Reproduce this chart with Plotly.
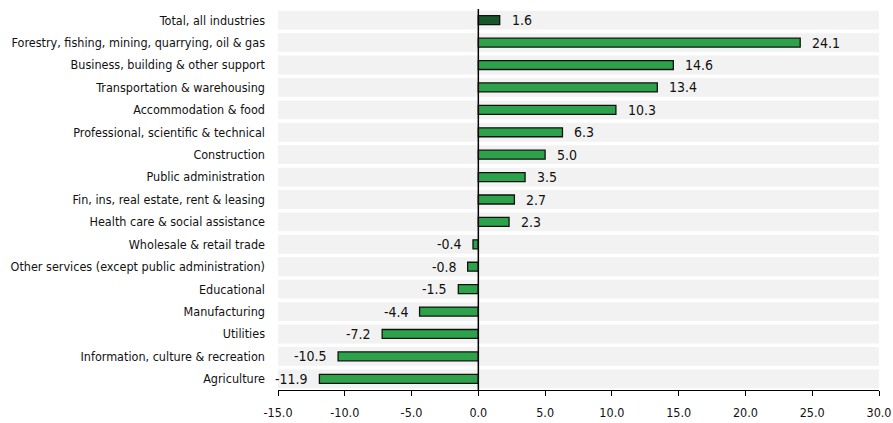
import plotly.graph_objects as go

categories = [
    "Total, all industries",
    "Forestry, fishing, mining, quarrying, oil & gas",
    "Business, building & other support",
    "Transportation & warehousing",
    "Accommodation & food",
    "Professional, scientific & technical",
    "Construction",
    "Public administration",
    "Fin, ins, real estate, rent & leasing",
    "Health care & social assistance",
    "Wholesale & retail trade",
    "Other services (except public administration)",
    "Educational",
    "Manufacturing",
    "Utilities",
    "Information, culture & recreation",
    "Agriculture",
]
values = [1.6, 24.1, 14.6, 13.4, 10.3, 6.3, 5.0, 3.5, 2.7, 2.3, -0.4, -0.8, -1.5, -4.4, -7.2, -10.5, -11.9]
tick_vals = [-15, -10, -5, 0, 5, 10, 15, 20, 25, 30]
tick_text = ["-15.0", "-10.0", "-5.0", "0.0", "5.0", "10.0", "15.0", "20.0", "25.0", "30.0"]

FONT = "DejaVu Sans Condensed, Liberation Sans, sans-serif"
colors = ["#17582a"] + ["#2ca34a"] * (len(categories) - 1)

fig = go.Figure()
fig.add_trace(go.Bar(
    x=values, y=categories, orientation="h",
    marker=dict(color=colors, line=dict(color="#111111", width=1.3)),
    width=0.4,
    hoverinfo="skip",
))

annotations = []
for c, v in zip(categories, values):
    annotations.append(dict(
        x=v, y=c, xref="x", yref="y", text=f"{v:.1f}", showarrow=False,
        xanchor="left" if v >= 0 else "right",
        xshift=10 if v >= 0 else -9,
        font=dict(family=FONT, size=14, color="#111111"),
    ))

shapes = []
for i, c in enumerate(categories):
    shapes.append(dict(type="rect", xref="paper", yref="y", x0=0, x1=1,
                       y0=i - 0.42, y1=i + 0.42, fillcolor="#f2f2f2",
                       line=dict(width=0), layer="below"))
shapes.append(dict(type="line", xref="x", yref="paper", x0=0, x1=0, y0=0, y1=1,
                   line=dict(color="#000000", width=1.5)))
fig.update_layout(
    width=893, height=423,
    margin=dict(l=278, r=14, t=9, b=33),
    paper_bgcolor="white", plot_bgcolor="white",
    shapes=shapes,
    annotations=annotations,
    showlegend=False,
    font=dict(family=FONT, size=12.5, color="#111111"),
    xaxis=dict(range=[-15, 30], tickvals=tick_vals, ticktext=tick_text,
               showgrid=False, zeroline=False, showline=True, linecolor="#000000",
               linewidth=1, ticks="outside", ticklen=5, tickcolor="#000000",
               ticklabelstandoff=6,
               automargin=False, tickfont=dict(family=FONT, size=12.5)),
    yaxis=dict(autorange="reversed", showgrid=False, zeroline=False,
               ticks="", ticklabelstandoff=12, automargin=False,
               tickfont=dict(family=FONT, size=12.5)),
)
fig.write_html("out.html", config={"displayModeBar": False},
               post_script="document.body.style.margin='0';")
